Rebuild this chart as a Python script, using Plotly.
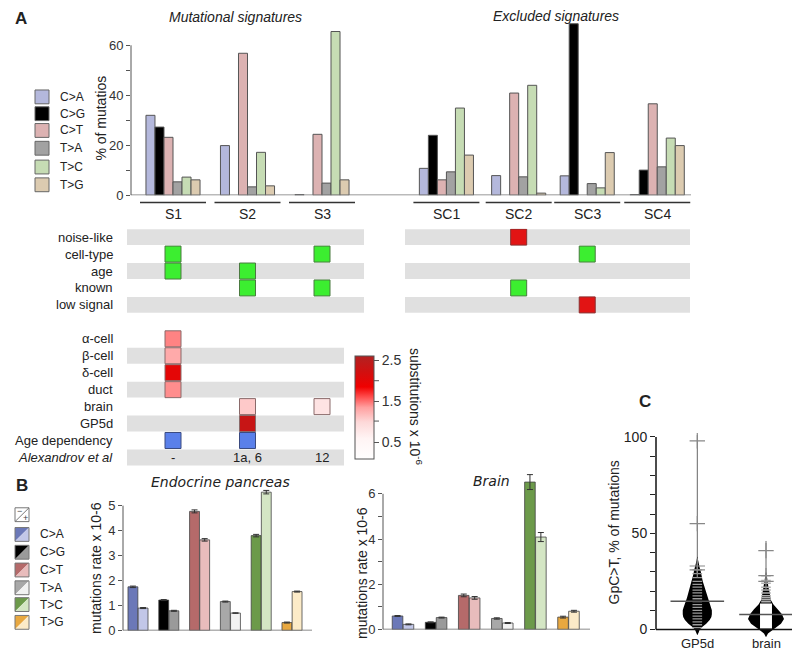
import plotly.graph_objects as go

W, H = 800, 651
def px(x): return x / W
def py(y): return 1 - y / H

# ---------------- DATA ----------------
mut_types = ["C>A", "C>G", "C>T", "T>A", "T>C", "T>G"]
signatures = ["S1", "S2", "S3", "SC1", "SC2", "SC3", "SC4"]
sig_pos = [0, 1, 2, 3.67, 4.64, 5.56, 6.5]

sig_ca = [32.0, 19.9, 0.3, 10.8, 7.9, 7.8, 0.3]
sig_cg = [27.3, None, None, 24.0, None, 68.6, 10.1]
sig_ct = [23.2, 56.8, 24.4, 6.2, 40.9, None, 36.6]
sig_ta = [5.4, 3.4, 4.9, 9.4, 7.4, 4.7, 11.4]
sig_tc = [7.3, 17.2, 65.5, 34.9, 44.0, 3.0, 22.9]
sig_tg = [6.2, 3.8, 6.2, 16.1, 0.9, 17.1, 19.9]
sig_values = [sig_ca, sig_cg, sig_ct, sig_ta, sig_tc, sig_tg]
a_colors = ["#b4b8dc", "#000000", "#dcb2b2", "#a2a2a2", "#c6dcb4", "#dccbb0"]

flag_rows = ["noise-like", "cell-type", "age", "known", "low signal"]
# 0 none, 1 green (yes), 2 red (excluded reason)
flag_matrix = [
    [0, 0, 0, 0, 2, 0, 0],
    [1, 0, 1, 0, 0, 1, 0],
    [1, 1, 0, 0, 0, 0, 0],
    [0, 1, 1, 0, 1, 0, 0],
    [0, 0, 0, 0, 0, 2, 0],
]

tissue_rows = ["α-cell", "β-cell", "δ-cell", "duct", "brain", "GP5d"]
tissue_subst = [  # S1, S2, S3 (substitutions x 10^-6)
    [1.45, None, None],
    [1.30, None, None],
    [2.00, None, None],
    [1.42, None, None],
    [None, 1.10, 0.85],
    [None, 2.35, None],
]
age_dependency = [1, 1, 0]
alexandrov = ["-", "1a, 6", "12"]

b_types = ["C>A", "C>G", "C>T", "T>A", "T>C", "T>G"]
b_dark = ["#6b78b8", "#000000", "#b56a6a", "#a8a8a8", "#6c9a4a", "#e8a840"]
b_light = ["#c2c7e8", "#9a9a9a", "#e8bcbc", "#f2f2f2", "#d4e6c4", "#fcebc8"]
panc_minus = [1.75, 1.22, 4.77, 1.16, 3.80, 0.32]
panc_plus = [0.90, 0.79, 3.63, 0.70, 5.54, 1.56]
panc_minus_err = [0.03, 0.02, 0.06, 0.02, 0.05, 0.02]
panc_plus_err = [0.02, 0.02, 0.05, 0.01, 0.07, 0.02]
brain_minus = [0.60, 0.32, 1.51, 0.49, 6.52, 0.55]
brain_plus = [0.23, 0.53, 1.40, 0.29, 4.09, 0.81]
brain_minus_err = [0.02, 0.02, 0.06, 0.03, 0.33, 0.04]
brain_plus_err = [0.02, 0.02, 0.06, 0.02, 0.20, 0.04]

c_groups = ["GP5d", "brain"]
gp5d_prof_y = [-3, -1.5, 0, 1.5, 3, 5, 6.5, 8, 10, 11.5, 13, 15, 16.5, 18, 20, 22, 23.5, 25, 27, 29, 30.5, 32, 34, 36, 38]
gp5d_prof_w = [0, 0.02, 0.035, 0.075, 0.13, 0.18, 0.205, 0.212, 0.212, 0.2, 0.18, 0.165, 0.15, 0.138, 0.122, 0.106, 0.093, 0.08, 0.066, 0.055, 0.048, 0.036, 0.022, 0.009, 0]
brain_prof_y = [-4, -2, 0, 1.5, 3, 5.5, 8, 10.5, 13, 15.5, 19, 22, 25, 28, 30]
brain_prof_w = [0, 0.029, 0.102, 0.16, 0.218, 0.262, 0.233, 0.175, 0.109, 0.068, 0.054, 0.036, 0.022, 0.012, 0]
c_median = [14.7, 7.8]
c_max = [101, 46]
gp5d_stripes = [1, 2.5, 4, 5.5, 7, 8.5, 10, 11.5, 13, 14.5, 16, 17.5, 19, 20.5, 22, 23.5, 25, 27, 29, 31]
brain_stripes = [14.5, 15.5, 16.5, 17.5, 19, 20.5, 22, 24, 25.5, 28]
gp5d_outliers = [98, 55, 33, 31]
brain_outliers = [41, 28, 25]

FONT = "Liberation Sans, Arial, sans-serif"
fig = go.Figure()

# ---------------- Panel A: bars ----------------
bw = 0.121
for k, (name, vals, col) in enumerate(zip(mut_types, sig_values, a_colors)):
    fig.add_trace(go.Bar(
        x=[p + (k - 2.5) * bw for p in sig_pos], y=vals, width=bw,
        marker=dict(color=col, line=dict(color="#555555", width=1)),
        xaxis="x", yaxis="y", name=name, showlegend=False))

# ---------------- Panel A: flag matrix ----------------
green_x, green_y, red_x, red_y = [], [], [], []
for r, row in enumerate(flag_matrix):
    for g, v in enumerate(row):
        if v == 1:
            green_x.append(sig_pos[g]); green_y.append(r)
        elif v == 2:
            red_x.append(sig_pos[g]); red_y.append(r)
fig.add_trace(go.Scatter(x=green_x, y=green_y, mode="markers", xaxis="x2", yaxis="y2",
                         marker=dict(symbol="square", size=16, color="#3cee30",
                                     line=dict(color="#4a7a40", width=1)), showlegend=False))
fig.add_trace(go.Scatter(x=red_x, y=red_y, mode="markers", xaxis="x2", yaxis="y2",
                         marker=dict(symbol="square", size=16, color="#e21414",
                                     line=dict(color="#8a3030", width=1)), showlegend=False))

t_x, t_y, t_v = [], [], []
for r, row in enumerate(tissue_subst):
    for g, v in enumerate(row):
        if v is not None:
            t_x.append(sig_pos[g]); t_y.append(6 + r); t_v.append(v)
cscale = [[0, "#ffffff"], [0.2, "#fff4f4"], [0.36, "#fdd8d8"], [0.5, "#ffa0a0"],
          [0.6, "#ff5050"], [0.7, "#f00000"], [0.85, "#d01010"], [1, "#b22222"]]
CB_TOP, CB_BOT, CB_MIN, CB_MAX = 352, 455, 0.1, 2.62
fig.add_trace(go.Scatter(
    x=t_x, y=t_y, mode="markers", xaxis="x2", yaxis="y2", showlegend=False,
    marker=dict(symbol="square", size=16, color=t_v, colorscale=cscale, cmin=CB_MIN, cmax=CB_MAX,
                line=dict(color="#8a6a6a", width=1), showscale=True,
                colorbar=dict(x=px(347), xanchor="left", y=py(CB_TOP), yanchor="top",
                              len=CB_BOT - CB_TOP, lenmode="pixels", thickness=19, thicknessmode="pixels",
                              xpad=0, ypad=0, outlinewidth=1, outlinecolor="#555555",
                              tickvals=[0.5, 1.5, 2.5],
                              ticks="outside", ticklen=5, tickcolor="#555555",
                              tickfont=dict(size=14, color="#333333", family=FONT)))))

age_x = [sig_pos[g] for g, v in enumerate(age_dependency) if v]
fig.add_trace(go.Scatter(x=age_x, y=[12] * len(age_x), mode="markers", xaxis="x2", yaxis="y2",
                         marker=dict(symbol="square", size=16, color="#5a80ea",
                                     line=dict(color="#3a4a80", width=1)), showlegend=False))

# ---------------- Panel B: bars ----------------
bo, bwb = 0.165, 0.32
for xs, ys, name in [("x3", "y3", "panc"), ("x4", "y4", "brain")]:
    dm = panc_minus if name == "panc" else brain_minus
    dp = panc_plus if name == "panc" else brain_plus
    em = panc_minus_err if name == "panc" else brain_minus_err
    ep = panc_plus_err if name == "panc" else brain_plus_err
    fig.add_trace(go.Bar(x=[i - bo for i in range(6)], y=dm, width=bwb, xaxis=xs, yaxis=ys,
                         marker=dict(color=b_dark, line=dict(color="#444444", width=0.8)),
                         error_y=dict(type="data", array=em, color="#333333", thickness=1, width=3),
                         showlegend=False))
    fig.add_trace(go.Bar(x=[i + bo for i in range(6)], y=dp, width=bwb, xaxis=xs, yaxis=ys,
                         marker=dict(color=b_light, line=dict(color="#444444", width=0.8)),
                         error_y=dict(type="data", array=ep, color="#333333", thickness=1, width=3),
                         showlegend=False))

# ---------------- Panel C: bean plots ----------------
for c, (yy, ww) in enumerate([(gp5d_prof_y, gp5d_prof_w), (brain_prof_y, brain_prof_w)]):
    fig.add_trace(go.Scatter(x=[c, c], y=[0, c_max[c]], mode="lines", xaxis="x5", yaxis="y5",
                             line=dict(color="#666666", width=1), showlegend=False))
    xs = [c - w for w in ww] + [c + w for w in ww[::-1]]
    ys = list(yy) + list(yy[::-1])
    fig.add_trace(go.Scatter(x=xs, y=ys, mode="lines", fill="toself", fillcolor="#000000",
                             line=dict(width=0, color="#000000"), xaxis="x5", yaxis="y5",
                             showlegend=False))

# brain inner white box
fig.add_trace(go.Scatter(x=[0.913, 1.087, 1.087, 0.913, 0.913], y=[0.5, 0.5, 13.5, 13.5, 0.5],
                         mode="lines", fill="toself", fillcolor="#ffffff",
                         line=dict(width=0), xaxis="x5", yaxis="y5", showlegend=False))

def stripes(center, vals, hw):
    xs, ys = [], []
    for v in vals:
        xs += [center - hw, center + hw, None]; ys += [v, v, None]
    return xs, ys

sx, sy = stripes(0, gp5d_stripes, 0.07)
fig.add_trace(go.Scatter(x=sx, y=sy, mode="lines", line=dict(color="#9a9a9a", width=1.3),
                         xaxis="x5", yaxis="y5", showlegend=False))
sx, sy = stripes(1, brain_stripes, 0.07)
fig.add_trace(go.Scatter(x=sx, y=sy, mode="lines", line=dict(color="#b0b0b0", width=1.5),
                         xaxis="x5", yaxis="y5", showlegend=False))
mx, my = [], []
for c, m in enumerate(c_median):
    mx += [c - 0.39, c + 0.39, None]; my += [m, m, None]
fig.add_trace(go.Scatter(x=mx, y=my, mode="lines", line=dict(color="#555555", width=1.5),
                         xaxis="x5", yaxis="y5", showlegend=False))
fig.add_trace(go.Scatter(x=[0] * len(gp5d_outliers) + [1] * len(brain_outliers),
                         y=gp5d_outliers + brain_outliers, mode="markers",
                         marker=dict(symbol="cross-thin", size=11, line=dict(color="#888888", width=1.2)),
                         xaxis="x5", yaxis="y5", showlegend=False))

# ---------------- Axes ----------------
noax = dict(showgrid=False, zeroline=False, showline=False, showticklabels=False, ticks="")
tickfont = dict(size=13, color="#333333", family=FONT)
a_x_range = [(123 - 165) / 74.5, (683 - 165) / 74.5]
fig.update_layout(
    xaxis=dict(domain=[px(123), px(683)], range=a_x_range, anchor="y", **noax),
    yaxis=dict(domain=[py(189.7), py(12.4)], range=[0, 70], anchor="x", showgrid=False, zeroline=False,
               showline=False, tickvals=[0, 20, 40, 60],
               ticks="outside", ticklen=4, tickcolor="#555555", tickfont=tickfont,
               minor=dict(tickvals=[10, 30, 50], ticks="outside", ticklen=4, tickcolor="#555555", showgrid=False)),
    xaxis2=dict(domain=[px(123), px(683)], range=a_x_range, anchor="y2", **noax),
    yaxis2=dict(domain=[py(463.6), py(223.4)], range=[13.5, -0.5], anchor="x2", **noax),
    xaxis3=dict(domain=[px(115), px(304)], range=[(115 - 130) / 30.8, (304 - 130) / 30.8], anchor="y3", **noax),
    yaxis3=dict(domain=[py(630.3), py(483.6)], range=[0, 5.8], anchor="x3", showgrid=False, zeroline=False,
                showline=False, tickvals=[0, 1, 2, 3, 4, 5], ticks="outside", ticklen=4,
                tickcolor="#555555", tickfont=tickfont),
    xaxis4=dict(domain=[px(375), px(582)], range=[(375 - 395) / 33.1, (582 - 395) / 33.1], anchor="y4", **noax),
    yaxis4=dict(domain=[py(629.3), py(464.4)], range=[0, 7.2], anchor="x4", showgrid=False, zeroline=False,
                showline=False, tickvals=[0, 2, 4, 6],
                ticks="outside", ticklen=4, tickcolor="#555555", tickfont=tickfont,
                minor=dict(tickvals=[1, 3, 5], ticks="outside", ticklen=4, tickcolor="#555555", showgrid=False)),
    xaxis5=dict(domain=[px(648), 1.0], range=[(648 - 689.3) / 68.7, (800 - 689.3) / 68.7], anchor="y5", **noax),
    yaxis5=dict(domain=[py(639.05), py(426.5)], range=[-5, 104], anchor="x5", showgrid=False, zeroline=False,
                showline=False, tickvals=[0, 50, 100],
                ticks="outside", ticklen=5, tickcolor="#222222",
                tickfont=dict(size=14, color="#222222", family=FONT),
                minor=dict(tickvals=[10, 20, 30, 40, 60, 70, 80, 90], ticks="outside", ticklen=5,
                           tickcolor="#222222", showgrid=False)),
)

# ---------------- Shapes ----------------
shapes = []
def line(x0, y0, x1, y1, xref="paper", yref="paper", color="#555555", width=1.5):
    shapes.append(dict(type="line", x0=x0, y0=y0, x1=x1, y1=y1, xref=xref, yref=yref,
                       line=dict(color=color, width=width)))
def rect(x0, y0, x1, y1, fill, xref="paper", yref="paper", lc=None, lw=0, layer="below"):
    shapes.append(dict(type="rect", x0=x0, y0=y0, x1=x1, y1=y1, xref=xref, yref=yref,
                       fillcolor=fill, line=dict(color=lc or fill, width=lw), layer=layer))

# A axes lines
line(px(123), 0, px(683), 0, yref="y", color="#777777", width=1.5)
line(px(123), 0, px(123), 60, yref="y", color="#555555", width=1)
for g in sig_pos:
    line(g - 0.443, py(197), g + 0.443, py(197), xref="x", color="#333333", width=1.5)

# colorbar minor ticks (at 1.0 and 2.0)
for v in [1.0, 2.0]:
    yy = CB_BOT - (v - CB_MIN) / (CB_MAX - CB_MIN) * (CB_BOT - CB_TOP)
    line(px(366), py(yy), px(371), py(yy), color="#555555", width=1)

# matrix bands
for r in [0, 2, 4]:
    rect(px(119), r - 0.47, px(356), r + 0.47, "#e0e0e0", yref="y2")
    rect(px(397), r - 0.47, px(682), r + 0.47, "#e0e0e0", yref="y2")
for r in [7, 9, 11, 13]:
    rect(px(119), r - 0.47, px(336), r + 0.47, "#e0e0e0", yref="y2")

# B axes lines
line(px(115), 0, px(115), 5, yref="y3", color="#555555", width=1)
line(px(115), 0, px(304), 0, yref="y3", color="#666666", width=1.5)
line(px(375), 0, px(375), 6, yref="y4", color="#555555", width=1)
line(px(375), 0, px(582), 0, yref="y4", color="#666666", width=1.5)
# C axes lines
line(px(648), 0, px(648), 100, yref="y5", color="#111111", width=1.5)
line(px(648), 0, 1.0, 0, yref="y5", color="#111111", width=1.5)

# A legend boxes
a_leg_y = [90, 107, 124, 142, 161, 179]
for yc, col in zip(a_leg_y, a_colors):
    rect(px(27), py(yc + 7), px(41), py(yc - 7), col, lc="#666666", lw=1, layer="above")

# B legend boxes (split diagonally)
b_leg_y = [533, 551, 569, 587, 604, 622]
def tri_box(yc, dark, light):
    x0, x1 = px(7), px(21)
    yt, yb = py(yc - 7), py(yc + 7)
    shapes.append(dict(type="path", path=f"M {x0} {yt} L {x1} {yt} L {x0} {yb} Z", xref="paper", yref="paper",
                       fillcolor=dark, line=dict(width=0), layer="below"))
    shapes.append(dict(type="path", path=f"M {x1} {yt} L {x1} {yb} L {x0} {yb} Z", xref="paper", yref="paper",
                       fillcolor=light, line=dict(width=0), layer="below"))
    shapes.append(dict(type="rect", x0=x0, y0=yb, x1=x1, y1=yt, xref="paper", yref="paper",
                       line=dict(color="#777777", width=1), layer="below"))
for yc, d, l in zip(b_leg_y, b_dark, b_light):
    tri_box(yc, d, l)
tri_box(513, "#ffffff", "#ffffff")
line(px(7), py(520), px(21), py(506), color="#777777", width=1)

fig.update_layout(shapes=shapes)

# ---------------- Annotations ----------------
ann = []
def text(x, y, s, size=13, xanchor="center", yanchor="middle", xref="paper", yref="paper",
         italic=False, bold=False, angle=0, color="#222222", family=FONT, pad=1):
    if italic: s = f"<i>{s}</i>"
    if bold: s = f"<b>{s}</b>"
    ann.append(dict(x=x, y=y, text=s, xref=xref, yref=yref, showarrow=False, xanchor=xanchor,
                    yanchor=yanchor, textangle=angle, borderpad=pad,
                    font=dict(size=size, color=color, family=family)))

text(px(13), py(11), "A", size=17, bold=True)
text(px(14), py(483), "B", size=17, bold=True)
text(px(637), py(398), "C", size=17, bold=True)
text(px(228), py(9), "Mutational signatures", size=14, italic=True)
text(px(548), py(8), "Excluded signatures", size=14, italic=True)
text(px(93), py(112), "% of mutatios", size=14, angle=-90)
for g, s in zip(sig_pos, signatures):
    text(g, py(209), s, size=14, xref="x")
for yc, s in zip(a_leg_y, mut_types):
    text(px(50), py(yc), s, size=12, xanchor="left")
for r, s in enumerate(flag_rows):
    text(px(107), r, s, size=13, xanchor="right", yref="y2")
for r, s in enumerate(tissue_rows):
    text(px(107), 6 + r, s, size=13, xanchor="right", yref="y2")
text(px(107), 12, "Age dependency", size=13, xanchor="right", yref="y2")
text(px(107), 13, "Alexandrov et al", size=13, xanchor="right", yref="y2", italic=True)
for g, s in enumerate(alexandrov):
    text(sig_pos[g], 13, s, size=13, xref="x2", yref="y2")
text(px(408), py(403), "substitutions x 10<sup>-6</sup>", size=14, angle=90)

text(px(212), py(480), "Endocrine pancreas", size=14, italic=True, family="DejaVu Sans")
text(px(483), py(479), "Brain", size=14, italic=True, family="DejaVu Sans")
text(px(88), py(567), "mutations rate x 10-6", size=14, angle=-90)
text(px(354), py(572), "mutations rate x 10-6", size=14, angle=-90)
text(px(11), py(509), "−", size=9, color="#444444", pad=0)
text(px(17.5), py(516.5), "+", size=9, color="#444444", pad=0)
for yc, s in zip(b_leg_y, b_types):
    text(px(30), py(yc), s, size=12, xanchor="left")

text(px(606), py(531), "GpC>T, % of mutations", size=14, angle=-90)
for c, s in enumerate(c_groups):
    text(c, py(643), s, size=13, xref="x5", pad=0)

fig.update_layout(annotations=ann, width=W, height=H, margin=dict(l=0, r=0, t=0, b=0),
                  paper_bgcolor="white", plot_bgcolor="rgba(0,0,0,0)", barmode="overlay",
                  font=dict(family=FONT, color="#222222"), showlegend=False)

fig.write_html("out.html")
